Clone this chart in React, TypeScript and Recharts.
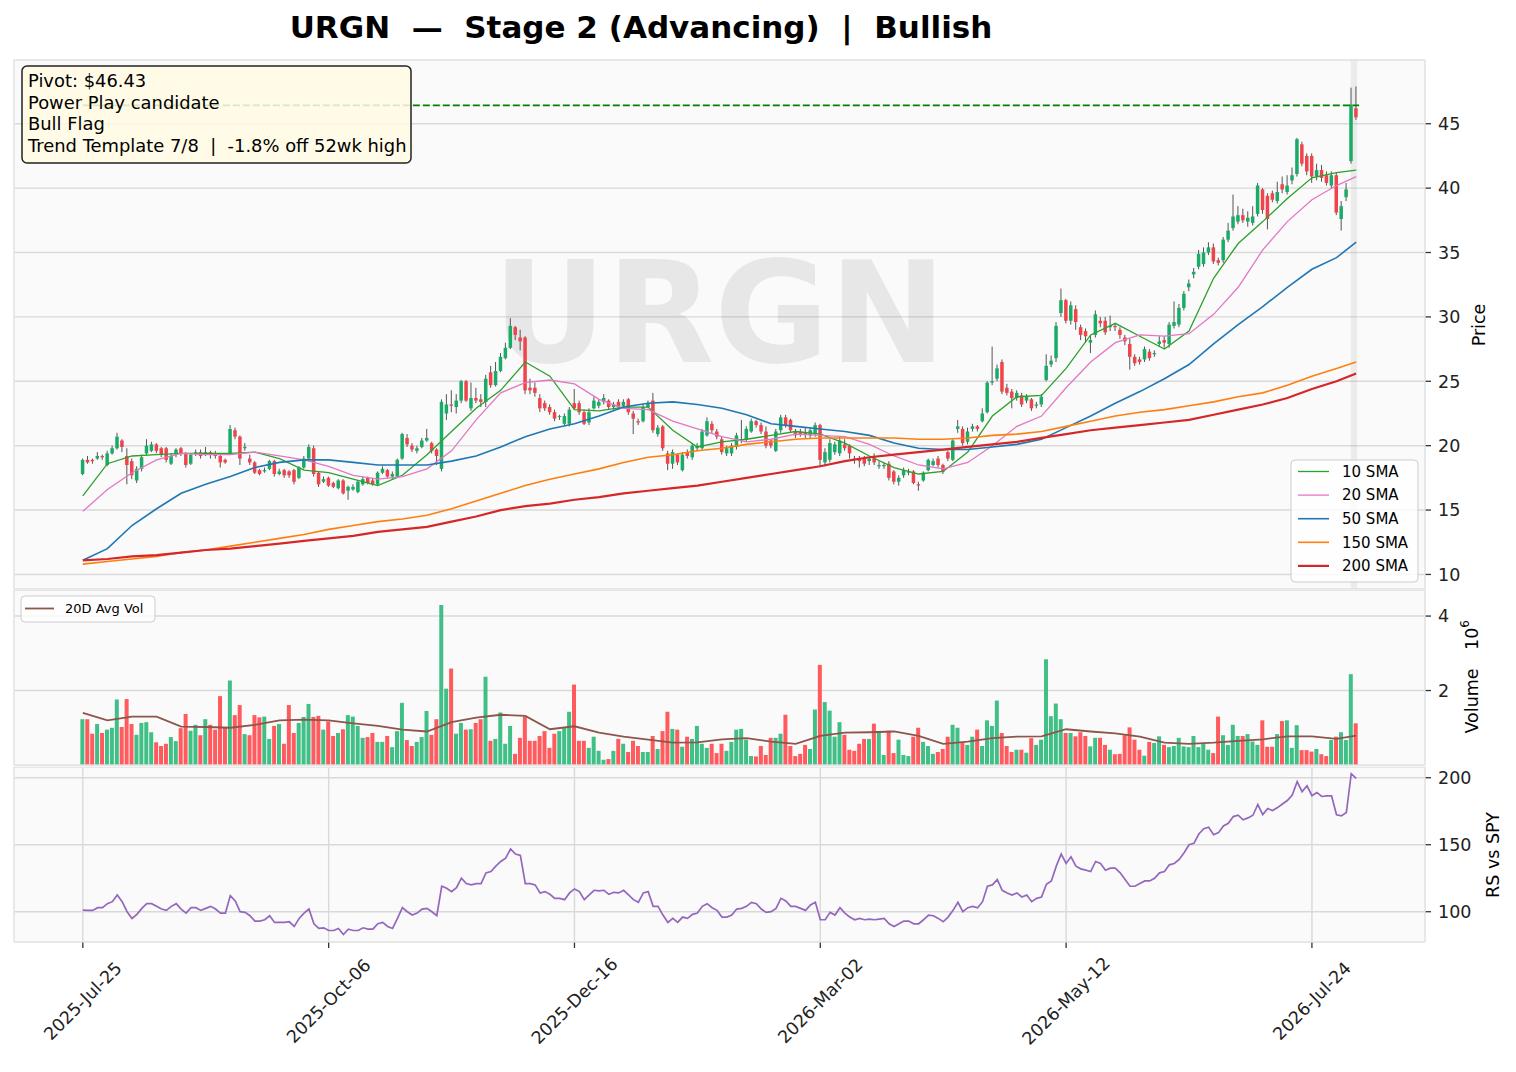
import React from 'react';
import { ComposedChart, Bar, Line, XAxis, YAxis, CartesianGrid, ReferenceLine, ReferenceArea, Cell } from 'recharts';

// x positions are trading-day indexes, labelled every 50 days
const dateTicks = [0, 50, 100, 150, 200, 250];
const dateLabels = ['2025-Jul-25', '2025-Oct-06', '2025-Dec-16', '2026-Mar-02', '2026-May-12', '2026-Jul-24'];

const opens = [
  17.8, 18.9, 18.9, 19.0, 19.2, 18.5, 19.4, 19.8, 20.4, 19.2,
  18.8, 17.3, 18.2, 19.4, 19.6, 20.1, 19.8, 19.8, 18.6, 19.3,
  19.8, 19.4, 18.6, 19.4, 19.5, 19.4, 19.5, 19.4, 19.2, 18.9,
  19.4, 21.2, 20.7, 19.8, 19.0, 18.7, 18.1, 18.0, 18.2, 18.8,
  17.8, 18.1, 18.0, 18.1, 17.5, 18.3, 19.0, 19.8, 17.9, 17.2,
  17.5, 17.1, 16.7, 17.3, 16.5, 16.6, 16.4, 17.0, 17.5, 17.3,
  17.0, 17.9, 18.1, 17.6, 17.6, 19.0, 20.6, 20.0, 19.6, 19.9,
  20.4, 20.2, 19.7, 18.2, 22.5, 23.2, 23.0, 23.5, 25.0, 22.9,
  23.7, 23.6, 23.4, 25.7, 24.7, 25.8, 26.8, 27.6, 29.2, 28.4,
  28.4, 24.5, 24.5, 23.7, 23.3, 23.0, 22.6, 22.25, 21.7, 21.7,
  23.3, 23.3, 22.6, 21.8, 22.9, 23.1, 23.4, 23.5, 23.0, 23.4,
  23.1, 23.6, 22.5, 21.9, 21.9, 23.0, 23.5, 20.9, 21.5, 19.4,
  18.6, 19.3, 18.1, 19.5, 19.1, 19.8, 19.8, 20.8, 21.7, 21.1,
  20.5, 19.4, 19.4, 19.9, 20.4, 20.5, 21.1, 21.9, 21.6, 21.1,
  20.4, 19.6, 21.2, 22.2, 22.0, 21.1, 21.1, 21.0, 20.8, 20.9,
  21.6, 18.7, 18.9, 19.5, 19.4, 20.1, 20.0, 19.0, 19.0, 19.0,
  18.8, 19.1, 18.4, 18.4, 18.6, 18.0, 17.2, 17.7, 17.9, 18.0,
  17.0, 17.3, 18.1, 18.5, 19.0, 18.5, 19.5, 18.9, 21.3, 21.3,
  20.3, 21.3, 21.5, 21.9, 22.6, 24.9, 25.2, 26.5, 24.5, 24.2,
  23.7, 23.9, 23.5, 23.6, 23.1, 23.2, 25.1, 26.3, 26.8, 30.3,
  31.3, 29.7, 30.6, 29.2, 28.9, 28.0, 28.6, 29.7, 29.7, 29.2,
  29.3, 29.0, 28.4, 27.9, 26.9, 26.7, 26.7, 27.3, 27.1, 27.9,
  28.2, 27.9, 29.3, 29.4, 30.7, 32.3, 33.3, 33.9, 34.1, 35.0,
  35.4, 34.4, 34.4, 36.0, 36.9, 37.4, 37.9, 37.4, 37.3, 38.0,
  39.9, 39.4, 39.6, 39.0, 40.3, 39.7, 40.6, 41.1, 43.4, 42.5,
  42.5, 40.9, 41.4, 41.0, 40.2, 41.0, 37.6, 39.3, 42.1, 46.2,
];

const closes = [
  18.9, 18.7, 18.8, 19.2, 19.1, 19.4, 19.8, 20.7, 19.9, 18.5,
  17.7, 18.2, 19.1, 20.0, 20.1, 19.6, 19.3, 18.9, 19.2, 19.7,
  19.4, 18.5, 19.3, 19.5, 19.2, 19.5, 19.4, 19.2, 18.7, 18.7,
  21.3, 20.7, 19.0, 19.9, 18.7, 17.9, 17.8, 18.1, 18.8, 17.8,
  18.0, 17.7, 17.7, 17.2, 18.3, 19.0, 19.9, 17.8, 17.0, 17.4,
  16.9, 16.8, 17.3, 16.3, 16.8, 16.8, 17.2, 17.4, 17.1, 17.0,
  17.9, 18.2, 17.6, 17.8, 18.9, 20.9, 20.1, 19.7, 19.8, 20.4,
  20.6, 19.6, 19.2, 23.4, 23.2, 23.1, 23.5, 25.0, 23.5, 23.7,
  23.5, 23.4, 25.2, 24.7, 25.8, 26.9, 27.6, 29.3, 28.6, 28.1,
  24.3, 24.3, 24.1, 22.9, 22.9, 22.6, 22.1, 22.3, 22.3, 22.8,
  22.9, 22.6, 21.7, 22.6, 23.5, 23.4, 23.7, 23.0, 23.2, 23.0,
  23.4, 22.6, 22.1, 21.8, 23.0, 23.3, 21.2, 21.4, 19.8, 18.6,
  19.5, 18.7, 19.3, 19.2, 20.0, 20.0, 21.1, 21.9, 21.2, 20.7,
  19.5, 19.8, 20.0, 20.8, 20.5, 21.3, 21.9, 21.6, 21.1, 20.0,
  20.0, 21.1, 22.2, 21.6, 21.2, 20.8, 20.9, 20.9, 21.2, 21.6,
  18.9, 19.5, 20.2, 20.1, 20.4, 19.8, 19.4, 18.9, 18.8, 18.6,
  19.0, 18.7, 18.5, 18.5, 17.5, 17.2, 17.5, 18.1, 18.0, 17.1,
  16.9, 17.9, 18.9, 18.8, 18.5, 18.0, 19.0, 20.4, 21.5, 20.2,
  21.1, 21.5, 21.3, 22.5, 24.9, 25.0, 26.0, 24.2, 24.1, 23.7,
  24.1, 23.2, 23.8, 22.9, 23.2, 23.8, 26.2, 26.6, 29.3, 31.3,
  29.7, 30.9, 29.6, 28.6, 28.5, 28.2, 30.2, 29.5, 28.8, 29.3,
  29.2, 28.6, 28.1, 26.9, 26.4, 26.5, 27.5, 26.8, 27.2, 28.1,
  28.0, 29.4, 29.6, 30.7, 31.8, 32.6, 33.5, 34.9, 35.0, 35.4,
  34.3, 34.2, 36.0, 36.7, 37.8, 37.9, 37.5, 37.7, 37.8, 40.2,
  38.3, 37.6, 39.1, 39.7, 39.9, 40.2, 41.0, 43.8, 41.9, 41.3,
  40.9, 41.4, 40.8, 40.4, 41.0, 38.1, 38.6, 39.9, 46.5, 45.5,
];

const highs = [
  19.0, 19.2, 19.0, 19.5, 19.3, 19.6, 20.0, 21.0, 20.5, 19.8,
  19.0, 18.4, 19.3, 20.5, 20.3, 20.2, 19.9, 19.9, 19.4, 19.8,
  19.9, 19.5, 19.4, 19.7, 19.7, 19.9, 19.6, 19.6, 19.4, 19.0,
  21.6, 21.4, 20.8, 20.2, 19.3, 18.8, 18.2, 18.3, 18.9, 18.9,
  18.2, 18.2, 18.1, 18.2, 18.4, 19.2, 20.1, 20.0, 18.0, 17.6,
  17.6, 17.2, 17.4, 17.4, 16.9, 17.0, 17.3, 17.6, 17.6, 17.5,
  18.0, 18.4, 18.2, 18.0, 19.0, 21.0, 20.9, 20.2, 20.0, 20.6,
  21.3, 20.3, 19.8, 23.6, 24.0, 24.3, 24.0, 25.1, 25.1, 24.9,
  24.5, 24.0, 25.5, 26.2, 26.5, 27.2, 28.0, 29.9, 29.3, 29.0,
  28.5, 25.2, 24.9, 24.0, 23.5, 23.2, 22.8, 22.4, 22.5, 23.0,
  24.4, 23.5, 22.8, 22.9, 23.8, 23.6, 24.0, 23.6, 23.4, 23.6,
  23.6, 23.7, 22.7, 22.1, 23.2, 23.5, 24.1, 21.6, 21.6, 19.6,
  19.7, 19.4, 19.5, 19.7, 20.2, 20.2, 21.3, 22.2, 21.9, 21.3,
  20.7, 20.0, 20.2, 21.0, 22.0, 21.5, 22.1, 22.0, 21.8, 21.5,
  20.5, 21.3, 22.4, 22.4, 22.1, 21.3, 21.3, 21.4, 21.4, 21.8,
  21.7, 19.8, 20.5, 20.3, 20.7, 20.5, 20.1, 19.2, 19.2, 19.2,
  19.1, 19.4, 18.8, 18.7, 18.8, 18.1, 17.7, 18.3, 18.2, 18.1,
  17.2, 18.0, 19.0, 19.0, 19.2, 18.6, 19.6, 20.5, 22.0, 21.5,
  21.4, 21.7, 21.6, 22.9, 25.0, 27.7, 26.3, 26.7, 24.8, 24.4,
  24.3, 24.1, 24.0, 23.7, 23.4, 24.0, 27.1, 27.0, 29.6, 32.2,
  31.4, 31.2, 30.9, 29.4, 29.1, 28.6, 30.5, 30.0, 30.0, 30.1,
  29.5, 29.2, 28.6, 28.3, 27.1, 26.9, 27.7, 27.5, 27.4, 28.5,
  28.5, 29.6, 31.2, 31.0, 32.0, 32.9, 33.8, 35.2, 35.4, 35.8,
  35.7, 34.6, 36.2, 37.3, 39.5, 38.6, 38.4, 38.2, 38.6, 40.4,
  40.0, 39.6, 39.8, 40.5, 40.9, 41.0, 41.6, 43.9, 43.6, 42.7,
  42.7, 41.9, 41.8, 41.3, 41.3, 41.2, 39.0, 40.4, 47.8, 47.9,
];

const lows = [
  17.7, 18.6, 18.6, 18.9, 18.9, 18.4, 19.3, 19.7, 19.5, 17.0,
  17.4, 17.1, 18.0, 19.3, 19.5, 19.4, 19.1, 18.7, 18.5, 19.1,
  19.2, 18.3, 18.5, 19.2, 19.0, 19.2, 19.0, 19.0, 18.3, 18.6,
  19.3, 20.5, 18.5, 19.6, 18.5, 17.8, 17.7, 17.9, 18.1, 17.6,
  17.7, 17.5, 17.5, 17.0, 17.4, 18.2, 18.9, 17.6, 16.8, 17.1,
  16.8, 16.7, 16.6, 16.2, 15.8, 16.5, 16.3, 16.9, 17.0, 16.9,
  16.9, 17.8, 17.5, 17.4, 17.5, 18.9, 19.9, 19.5, 19.4, 19.8,
  20.3, 19.4, 18.5, 18.0, 22.0, 22.6, 22.5, 23.3, 23.4, 22.7,
  23.3, 23.0, 23.0, 24.5, 24.6, 25.7, 26.7, 27.5, 28.2, 27.4,
  24.0, 24.0, 23.8, 22.6, 22.7, 22.4, 21.9, 22.0, 21.6, 21.5,
  22.8, 22.4, 21.6, 21.6, 22.8, 22.9, 23.2, 22.8, 22.8, 22.8,
  22.9, 22.4, 20.9, 21.6, 21.8, 22.9, 21.0, 20.7, 19.6, 18.1,
  18.2, 18.5, 18.0, 19.0, 18.9, 19.6, 19.7, 20.7, 21.0, 20.5,
  19.3, 19.2, 19.2, 19.7, 20.2, 20.3, 21.0, 21.4, 20.9, 19.8,
  19.8, 19.5, 21.0, 21.4, 21.0, 20.6, 20.7, 20.6, 20.6, 20.7,
  18.4, 18.4, 18.7, 19.3, 19.2, 19.6, 19.0, 18.6, 18.3, 18.4,
  18.5, 18.5, 18.2, 18.2, 17.3, 17.0, 16.9, 17.5, 17.7, 17.0,
  16.5, 17.2, 18.0, 18.4, 18.3, 17.8, 18.8, 18.8, 21.0, 20.0,
  20.1, 21.1, 21.1, 21.8, 22.5, 24.7, 25.0, 24.0, 23.9, 22.9,
  23.5, 23.0, 23.3, 22.7, 22.9, 23.0, 25.0, 26.1, 26.5, 30.0,
  29.5, 29.4, 29.0, 28.2, 28.0, 27.2, 28.4, 29.2, 28.6, 28.9,
  28.9, 28.3, 27.8, 25.9, 26.2, 26.3, 26.5, 26.6, 26.9, 27.7,
  27.6, 27.6, 29.1, 29.2, 30.5, 32.0, 33.0, 33.7, 33.9, 34.8,
  34.1, 34.0, 34.2, 35.8, 36.7, 37.2, 37.3, 37.0, 37.1, 37.8,
  38.0, 36.8, 38.9, 38.8, 39.6, 39.5, 40.3, 40.9, 41.7, 41.0,
  40.4, 40.6, 40.5, 40.2, 40.0, 37.9, 36.7, 39.0, 41.9, 45.3,
];

// daily volume, millions of shares
const volumes = [
  1.23, 1.23, 0.84, 1.1, 0.86, 0.95, 1.0, 1.76, 1.02, 1.77,
  1.1, 0.81, 1.13, 1.15, 0.88, 0.61, 0.51, 0.57, 0.75, 0.64,
  0.99, 1.37, 0.92, 1.08, 0.8, 1.23, 1.08, 0.95, 1.85, 1.02,
  2.27, 1.34, 1.61, 0.83, 0.8, 1.34, 1.28, 1.3, 0.7, 1.05,
  1.1, 0.57, 1.61, 0.86, 1.13, 1.29, 1.64, 1.29, 1.32, 0.95,
  1.17, 0.78, 0.86, 0.96, 1.34, 1.3, 1.05, 0.73, 0.75, 0.86,
  0.62, 0.62, 0.78, 0.48, 0.91, 1.67, 0.67, 0.51, 0.62, 0.75,
  1.45, 0.81, 1.23, 4.3, 2.05, 2.59, 0.84, 1.13, 0.95, 0.96,
  1.13, 1.23, 2.37, 0.65, 0.7, 1.41, 0.57, 1.05, 0.3, 0.73,
  1.3, 0.65, 0.65, 0.78, 0.91, 0.46, 0.84, 0.91, 0.99, 1.43,
  2.16, 0.65, 0.65, 0.46, 0.76, 0.38, 0.14, 0.16, 0.38, 0.7,
  0.57, 0.35, 0.65, 0.51, 0.35, 0.35, 0.78, 0.43, 0.91, 1.43,
  0.97, 0.95, 0.49, 0.76, 0.7, 1.05, 0.57, 0.46, 0.57, 0.32,
  0.57, 0.38, 0.62, 0.95, 0.97, 0.68, 0.24, 0.23, 0.51, 0.27,
  0.73, 0.73, 0.84, 1.35, 0.51, 0.24, 0.3, 0.54, 0.43, 1.49,
  2.69, 1.69, 1.46, 0.76, 1.15, 0.81, 0.41, 0.38, 0.57, 0.7,
  0.7, 1.11, 0.9, 0.27, 0.92, 0.32, 0.68, 0.27, 0.24, 0.76,
  1.0, 0.62, 0.51, 0.3, 0.35, 0.43, 0.76, 1.08, 1.0, 0.59,
  0.54, 0.76, 0.95, 0.51, 1.2, 1.05, 1.73, 0.86, 0.51, 0.35,
  0.41, 0.41, 0.33, 0.72, 0.54, 0.68, 2.84, 1.31, 1.65, 1.23,
  0.86, 0.86, 0.77, 0.88, 0.78, 0.5, 0.73, 0.73, 0.54, 0.41,
  0.29, 0.3, 0.8, 1.01, 0.68, 0.41, 0.25, 0.62, 0.59, 0.77,
  0.54, 0.48, 0.51, 0.73, 0.5, 0.48, 0.78, 0.48, 0.57, 0.41,
  0.32, 1.3, 0.8, 0.54, 1.08, 0.78, 0.78, 0.83, 0.63, 0.54,
  1.2, 0.49, 0.49, 0.83, 1.18, 1.2, 0.46, 1.07, 0.4, 0.4,
  0.36, 0.43, 0.29, 0.24, 0.67, 0.76, 0.88, 0.67, 2.44, 1.12,
];

const rsVsSpy = [
  101.2, 101, 101, 103, 103, 106, 107.5, 112.5, 107.5, 100,
  95, 98, 102.5, 106, 106, 104, 102, 101, 104, 106,
  102, 99, 103, 103, 101, 102.5, 104, 102, 99, 99,
  112, 108, 100, 99.5, 97, 93, 93, 94, 97, 92,
  92, 92, 92.5, 89, 95, 99, 102, 91, 87.5, 88,
  86, 86, 87.5, 83, 87, 86, 86, 88, 87, 87,
  91, 92, 89, 87.5, 95, 103, 100, 97.5, 99, 102,
  102.5, 100, 97, 119, 117.5, 115, 118, 125, 121, 120,
  121, 121, 129, 130, 134, 137.5, 140, 146.8, 143, 142,
  121, 121, 120, 114, 115, 113, 110, 110, 109, 114,
  117, 115, 109, 112.5, 116, 115.5, 116, 113, 114.5, 114,
  116, 112.5, 109, 107, 114, 115, 104, 104, 97.5, 92,
  95, 92, 96, 95, 98, 99, 104, 106, 103, 101,
  96, 96, 97.5, 102, 102.5, 104, 107, 106, 102, 99.5,
  100, 102.5, 110, 108, 104, 104, 102.5, 101, 105, 107,
  94, 94, 99.5, 97.5, 103, 99, 96, 94, 95, 94,
  94.5, 94, 94.5, 95, 91, 89, 91, 93, 93, 91,
  91, 94, 97.5, 97, 95, 92.5, 96, 101, 107, 100,
  103, 104, 103, 107.5, 119, 120, 124, 116, 114, 112.5,
  114, 111, 112.5, 107.5, 110, 111, 120.5, 123, 134, 143,
  136, 141, 134, 132, 131, 130, 137.5, 136, 131, 132.5,
  132.5, 129, 124, 119, 119, 121, 123, 123, 125, 129,
  130, 135, 136, 139, 144, 150, 151, 158, 162, 163,
  157.5, 159, 164, 166, 171, 172, 168.6, 170, 172, 180,
  172.5, 177, 175.5, 177.7, 180.4, 183, 187, 197, 189.6, 194,
  186.6, 189, 186, 186.4, 186.4, 172.3, 171.5, 174, 203, 199.5,
];

const smaIdx = [
  0, 5, 10, 15, 20, 25, 30, 35, 40, 45, 50, 55, 60, 65, 70, 75, 80, 85, 90, 95,
  100, 105, 110, 115, 120, 125, 130, 135, 140, 145, 150, 155, 160, 165, 170, 175,
  180, 185, 190, 195, 200, 205, 210, 215, 220, 225, 230, 235, 240, 245, 250, 255, 259,
];
const sma10 = [
  16.1, 18.6, 19.2, 19.3, 19.4, 19.4, 19.4, 19.5, 19.0, 18.1, 17.9, 17.4, 16.9, 17.7, 19.3, 21.1, 22.9, 24.3, 26.5, 25.4,
  22.8, 22.7, 23.0, 23.0, 21.2, 19.9, 20.3, 20.5, 20.8, 21.1, 20.9, 20.2, 19.2, 18.3, 17.8, 18.0,
  19.5, 22.3, 23.8, 23.9, 26.0, 28.6, 29.5, 28.5, 27.5, 28.9, 33.0, 35.7, 37.4, 39.2, 40.8, 41.2, 41.4,
];
const sma20 = [
  14.9, 16.6, 17.9, 18.9, 19.4, 19.3, 19.3, 19.5, 19.2, 18.9, 18.4, 17.7, 17.4, 17.6, 18.2, 19.6, 22.0, 24.1, 24.9, 25.1,
  24.8, 23.6, 22.9, 22.8, 21.9, 21.3, 20.7, 20.3, 20.5, 20.9, 20.8, 20.7, 20.1, 19.2, 18.5, 18.2,
  18.7, 20.0, 21.5, 22.3, 24.5, 26.5, 28.0, 28.6, 28.5, 28.7, 30.2, 32.3, 35.2, 37.4, 39.1, 40.2, 40.9,
];
const sma50 = [
  11.1, 12.0, 13.8, 15.1, 16.3, 17.0, 17.6, 18.3, 18.7, 18.9, 18.9, 18.7, 18.5, 18.5, 18.5, 18.8, 19.2, 19.9, 20.7, 21.3,
  21.7, 22.3, 23.0, 23.3, 23.4, 23.2, 22.9, 22.4, 21.7, 21.5, 21.3, 21.1, 20.8, 20.2, 19.8, 19.7,
  19.7, 19.9, 20.1, 20.5, 21.4, 22.3, 23.3, 24.2, 25.2, 26.3, 27.9, 29.4, 30.8, 32.3, 33.7, 34.6, 35.8,
];
const sma150 = [
  10.8, 11.0, 11.2, 11.4, 11.7, 11.9, 12.2, 12.5, 12.8, 13.1, 13.5, 13.8, 14.1, 14.3, 14.6, 15.1, 15.7, 16.3, 16.9, 17.4,
  17.8, 18.2, 18.7, 19.1, 19.3, 19.6, 19.8, 20.1, 20.3, 20.5, 20.6, 20.6, 20.6, 20.6, 20.5, 20.5,
  20.6, 20.8, 20.9, 21.1, 21.5, 21.9, 22.3, 22.6, 22.8, 23.1, 23.4, 23.8, 24.1, 24.7, 25.4, 26.0, 26.5,
];
const sma200 = [
  11.1, 11.2, 11.4, 11.5, 11.7, 11.9, 12.0, 12.2, 12.4, 12.6, 12.8, 13.0, 13.3, 13.5, 13.7, 14.1, 14.5, 15.0, 15.3, 15.5,
  15.8, 16.0, 16.3, 16.5, 16.7, 16.9, 17.2, 17.5, 17.8, 18.1, 18.4, 18.8, 19.1, 19.3, 19.5, 19.7,
  19.9, 20.1, 20.3, 20.6, 20.9, 21.2, 21.4, 21.6, 21.8, 22.0, 22.4, 22.8, 23.2, 23.7, 24.4, 25.0, 25.6,
];
const avgVol20 = [
  1.40, 1.2, 1.3, 1.3, 1.03, 1.02, 1.0, 1.08, 1.2, 1.22, 1.2, 1.12, 1.05, 0.95, 0.9, 1.15, 1.27, 1.35, 1.32, 0.96,
  1.04, 0.87, 0.76, 0.68, 0.6, 0.61, 0.69, 0.72, 0.63, 0.57, 0.78, 0.87, 0.88, 0.9, 0.78, 0.57,
  0.63, 0.72, 0.76, 0.77, 0.96, 0.9, 0.85, 0.76, 0.6, 0.57, 0.6, 0.65, 0.69, 0.77, 0.77, 0.7, 0.79,
];

const pivot = 46.43;
const noteLines = ['Pivot: $46.43', 'Power Play candidate', 'Bull Flag', 'Trend Template 7/8  |  -1.8% off 52wk high'];

const smaSeries = [
  { key: 's10', name: '10 SMA', color: '#2ca02c', width: 1.3 },
  { key: 's20', name: '20 SMA', color: '#e377c2', width: 1.3 },
  { key: 's50', name: '50 SMA', color: '#1f77b4', width: 1.6 },
  { key: 's150', name: '150 SMA', color: '#ff7f0e', width: 1.6 },
  { key: 's200', name: '200 SMA', color: '#d62728', width: 2.2 },
];

const UP = '#1aab68';
const DOWN = '#f0434b';
const VOL_UP = '#40bf86';
const VOL_DOWN = '#ff5b5f';
const GRID = '#d9d9d9';
const FONT = 'DejaVu Sans';

const rows: any[] = closes.map((c, i) => ({
  i, o: opens[i], h: highs[i], l: lows[i], c, v: volumes[i], rs: rsVsSpy[i],
}));
smaIdx.forEach((ix, k) => {
  Object.assign(rows[ix], {
    s10: sma10[k], s20: sma20[k], s50: sma50[k], s150: sma150[k], s200: sma200[k], av: avgVol20[k],
  });
});

const X_DOMAIN = [-14, 273];

const Candle = (p: any) => {
  const { x, y, width, height, payload } = p;
  if (!payload || !height) return null;
  const top = Math.min(y, y + height);
  const span = Math.abs(height);
  const k = span / (payload.h - payload.l);
  const cx = x + width / 2;
  const yo = top + (payload.h - payload.o) * k;
  const yc = top + (payload.h - payload.c) * k;
  const up = payload.c >= payload.o;
  return (
    <g>
      <line x1={cx} x2={cx} y1={top} y2={top + span} stroke="#555" strokeWidth={1} />
      <rect x={cx - 1.75} y={Math.min(yo, yc)} width={3.5} height={Math.max(Math.abs(yc - yo), 0.9)} fill={up ? UP : DOWN} />
    </g>
  );
};

const DateTick = (p: any) => {
  const idx = dateTicks.indexOf(p.payload.value);
  return (
    <text transform={`translate(${p.x},234) rotate(-45)`} textAnchor="middle" dominantBaseline="central"
      fontSize={17.5} fill="#222" fontFamily={FONT}>
      {dateLabels[idx]}
    </text>
  );
};

const yTick = { fontSize: 17.5, fill: '#222', fontFamily: FONT };

const hiddenX = (
  <XAxis dataKey="i" type="number" domain={X_DOMAIN} ticks={dateTicks} tick={false} tickLine={false}
    axisLine={false} height={0} allowDataOverflow />
);

export default function App() {
  return (
    <div style={{ position: 'absolute', left: 0, top: 0, width: 1516, height: 1072, background: '#fff', fontFamily: FONT }}>
      {/* price panel */}
      <div style={{ position: 'absolute', left: 0, top: 0 }}>
        <ComposedChart width={1516} height={590} data={rows} margin={{ top: 60, right: 0, bottom: 1, left: 14 }}>
          <CartesianGrid stroke={GRID} strokeWidth={1.4} fill="#fafafa" />
          {hiddenX}
          <YAxis orientation="right" width={91} domain={[8.87, 49.95]} ticks={[10, 15, 20, 25, 30, 35, 40, 45]}
            allowDataOverflow tick={yTick} tickLine={{ stroke: '#333', strokeWidth: 1.3 }} tickSize={6} tickMargin={7}
            axisLine={false} />
          <text x={719.5} y={362} textAnchor="middle" fontSize={140} fontWeight="bold" fill="#000" fillOpacity={0.075}
            fontFamily={FONT}>URGN</text>
          <ReferenceArea x1={257.9} x2={259.2} fill="#999" fillOpacity={0.15} stroke="none" />
          <Bar dataKey={(d: any) => [d.l, d.h]} barSize={5} shape={Candle} isAnimationActive={false} />
          {smaSeries.map((s) => (
            <Line key={s.key} dataKey={s.key} stroke={s.color} strokeWidth={s.width} dot={false} activeDot={false}
              connectNulls type="linear" isAnimationActive={false} />
          ))}
          <ReferenceLine segment={[{ x: 0, y: pivot }, { x: 259.6, y: pivot }]} stroke="#008000" strokeWidth={1.8}
            strokeDasharray="7 3" />
        </ComposedChart>
      </div>

      {/* volume panel */}
      <div style={{ position: 'absolute', left: 0, top: 590 }}>
        <ComposedChart width={1516} height={176} data={rows} margin={{ top: 0, right: 0, bottom: 1, left: 14 }}>
          <CartesianGrid stroke={GRID} strokeWidth={1.4} fill="#fafafa" />
          {hiddenX}
          <YAxis orientation="right" width={91} domain={[0, 4.7]} ticks={[2, 4]} allowDataOverflow tick={yTick}
            tickLine={{ stroke: '#333', strokeWidth: 1.3 }} tickSize={6} tickMargin={7} axisLine={false} />
          <Bar dataKey="v" barSize={4} isAnimationActive={false}>
            {rows.map((r) => <Cell key={r.i} fill={r.c >= r.o ? VOL_UP : VOL_DOWN} />)}
          </Bar>
          <Line dataKey="av" stroke="#8c564b" strokeWidth={1.8} dot={false} activeDot={false} connectNulls
            isAnimationActive={false} />
        </ComposedChart>
      </div>

      {/* relative strength panel */}
      <div style={{ position: 'absolute', left: 0, top: 767 }}>
        <ComposedChart width={1516} height={305} data={rows} margin={{ top: 0, right: 0, bottom: 0, left: 14 }}>
          <CartesianGrid stroke={GRID} strokeWidth={1.4} fill="#fafafa" />
          <XAxis dataKey="i" type="number" domain={X_DOMAIN} ticks={dateTicks} tick={<DateTick />} height={130}
            tickLine={{ stroke: '#333', strokeWidth: 1.3 }} tickSize={6} axisLine={false} allowDataOverflow
            interval={0} />
          <YAxis orientation="right" width={91} domain={[77.4, 208]} ticks={[100, 150, 200]} allowDataOverflow
            tick={yTick} tickLine={{ stroke: '#333', strokeWidth: 1.3 }} tickSize={6} tickMargin={7} axisLine={false} />
          <Line dataKey="rs" stroke="#9467bd" strokeWidth={1.7} dot={false} activeDot={false} isAnimationActive={false} />
        </ComposedChart>
      </div>

      {/* titles, legends and notes */}
      <svg width={1516} height={1072} style={{ position: 'absolute', left: 0, top: 0, pointerEvents: 'none' }}
        fontFamily={FONT}>
        <text x={641} y={38} textAnchor="middle" fontSize={31} fontWeight="bold" fill="#000" style={{ whiteSpace: 'pre' }}>
          {'URGN  \u2014  Stage 2 (Advancing)  |  Bullish'}
        </text>
        <g fill="none" stroke="#ebebeb" strokeWidth={1.2}>
          <rect x={14} y={60} width={1411} height={529} />
          <rect x={14} y={590} width={1411} height={175} />
          <rect x={14} y={767} width={1411} height={175} />
        </g>

        <rect x={22} y={66} width={389} height={97} rx={5} fill="rgba(255,250,226,0.85)" stroke="#222" strokeWidth={1.5} />
        {noteLines.map((t, k) => (
          <text key={t} x={28} y={87 + k * 21.6} fontSize={17.9} fill="#000" style={{ whiteSpace: 'pre' }}>{t}</text>
        ))}

        <rect x={1291} y={460} width={127} height={122} rx={4} fill="rgba(255,255,255,0.8)" stroke="#cccccc" />
        {smaSeries.map((s, k) => (
          <g key={s.key}>
            <line x1={1298} x2={1329} y1={471.5 + k * 23.6} y2={471.5 + k * 23.6} stroke={s.color} strokeWidth={s.width} />
            <text x={1342} y={476.8 + k * 23.6} fontSize={15} fill="#000">{s.name}</text>
          </g>
        ))}

        <rect x={21} y={596} width={134} height={26} rx={4} fill="rgba(255,255,255,0.8)" stroke="#cccccc" />
        <line x1={25} x2={54} y1={608.5} y2={608.5} stroke="#8c564b" strokeWidth={1.8} />
        <text x={65} y={613} fontSize={13} fill="#000">20D Avg Vol</text>

        <text transform="translate(1479,325) rotate(-90)" textAnchor="middle" dominantBaseline="central" fontSize={17.5}
          fill="#000">Price</text>
        <text transform="translate(1472,701) rotate(-90)" textAnchor="middle" dominantBaseline="central" fontSize={17.5}
          fill="#000">Volume</text>
        <text transform="translate(1472,635) rotate(-90)" textAnchor="middle" dominantBaseline="central" fontSize={17.5}
          fill="#000">10<tspan dy={-7} fontSize={12}>6</tspan></text>
        <text transform="translate(1493,855) rotate(-90)" textAnchor="middle" dominantBaseline="central" fontSize={17.5}
          fill="#000">RS vs SPY</text>
      </svg>
    </div>
  );
}
